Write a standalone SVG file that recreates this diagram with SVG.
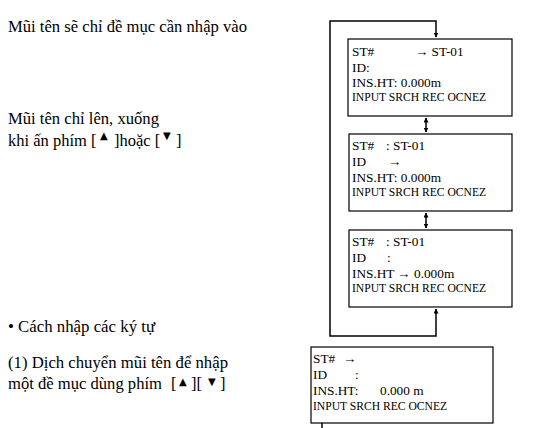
<svg xmlns="http://www.w3.org/2000/svg" width="535" height="428" viewBox="0 0 535 428">
<style>
.t{font-family:'Liberation Serif','Tinos','DejaVu Serif',serif;font-size:16.5px;fill:#000}
.b{font-family:'Liberation Serif','Tinos','DejaVu Serif',serif;font-size:13.3px;fill:#000}
.s{font-family:'Liberation Serif','Tinos','DejaVu Serif',serif;font-size:11.6px;fill:#000}
.tri{font-family:'DejaVu Sans',sans-serif;font-size:10px}
.box{fill:#fff;stroke:#000;stroke-width:1.2}
.ln{fill:none;stroke:#000;stroke-width:1.5}
</style>
<defs>
<marker id="ah" viewBox="0 0 10 10" refX="9" refY="5" markerWidth="5" markerHeight="5" orient="auto-start-reverse" markerUnits="userSpaceOnUse"><path d="M0,0 L10,5 L0,10 z" fill="#000"/></marker>
</defs>
<g id="labels">
<text class="t" x="8" y="32" textLength="239" lengthAdjust="spacingAndGlyphs">Mũi tên sẽ chỉ đề mục cần nhập vào</text>
<text class="t" x="8" y="124" textLength="151" lengthAdjust="spacingAndGlyphs">Mũi tên chỉ lên, xuống</text>
<text class="t" y="146"><tspan x="8">khi ấn phím [</tspan><tspan class="tri" x="100" y="139">▲</tspan><tspan x="114" y="146">]hoặc [</tspan><tspan class="tri" x="163" y="139">▼</tspan><tspan x="176" y="146">]</tspan></text>
<text class="t" x="8" y="332" textLength="147" lengthAdjust="spacingAndGlyphs">• Cách nhập các ký tự</text>
<text class="t" x="8" y="368" textLength="220" lengthAdjust="spacingAndGlyphs">(1) Dịch chuyển mũi tên để nhập</text>
<text class="t" x="8" y="389" textLength="154" lengthAdjust="spacingAndGlyphs">một đề mục dùng phím</text>
<text class="t" y="389"><tspan x="171">[</tspan><tspan class="tri" x="179" y="385">▲</tspan><tspan x="191" y="389">][</tspan><tspan class="tri" x="208" y="385">▼</tspan><tspan x="220" y="389">]</tspan></text>
</g>
<g id="connectors">
<path class="ln" d="M436,309 V336 H330 V21 H436 V37" marker-start="url(#ah)" marker-end="url(#ah)"/>
<path class="ln" d="M426,118 V132" marker-start="url(#ah)" marker-end="url(#ah)"/>
<path class="ln" d="M426,213 V228" marker-start="url(#ah)" marker-end="url(#ah)"/>
<path class="ln" d="M426,190 V177" marker-end="url(#ah)"/>
<path class="ln" d="M322,423 V428"/>
</g>
<g id="screen1">
<rect class="box" x="348" y="39" width="164" height="77"/>
<text class="b" x="352" y="56">ST#</text>
<text class="b" x="415" y="56">→ ST-01</text>
<text class="b" x="352" y="72">ID:</text>
<text class="b" x="352" y="87">INS.HT: 0.000m</text>
<text class="s" x="352" y="101">INPUT SRCH REC OCNEZ</text>
</g>
<g id="screen2">
<rect class="box" x="349" y="134" width="163" height="77"/>
<text class="b" x="352" y="150">ST#</text>
<text class="b" x="386" y="150">: ST-01</text>
<text class="b" x="352" y="166">ID</text>
<text class="b" x="388" y="166">→</text>
<text class="b" x="352" y="182">INS.HT: 0.000m</text>
<text class="s" x="352" y="196">INPUT SRCH REC OCNEZ</text>
</g>
<g id="screen3">
<rect class="box" x="349" y="230" width="163" height="77"/>
<text class="b" x="352" y="246">ST#</text>
<text class="b" x="386" y="246">: ST-01</text>
<text class="b" x="352" y="262">ID</text>
<text class="b" x="387" y="262">:</text>
<text class="b" x="352" y="278">INS.HT</text>
<text class="b" x="397" y="278">→</text>
<text class="b" x="414" y="278">0.000m</text>
<text class="s" x="352" y="292">INPUT SRCH REC OCNEZ</text>
</g>
<g id="screen4">
<rect class="box" x="311" y="347" width="182" height="76"/>
<text class="b" x="313" y="363">ST#</text>
<text class="b" x="343" y="363">→</text>
<text class="b" x="313" y="379">ID</text>
<text class="b" x="355" y="379">:</text>
<text class="b" x="313" y="395">INS.HT:</text>
<text class="b" x="380" y="395">0.000 m</text>
<text class="s" x="313" y="410">INPUT SRCH REC OCNEZ</text>
</g>
</svg>
